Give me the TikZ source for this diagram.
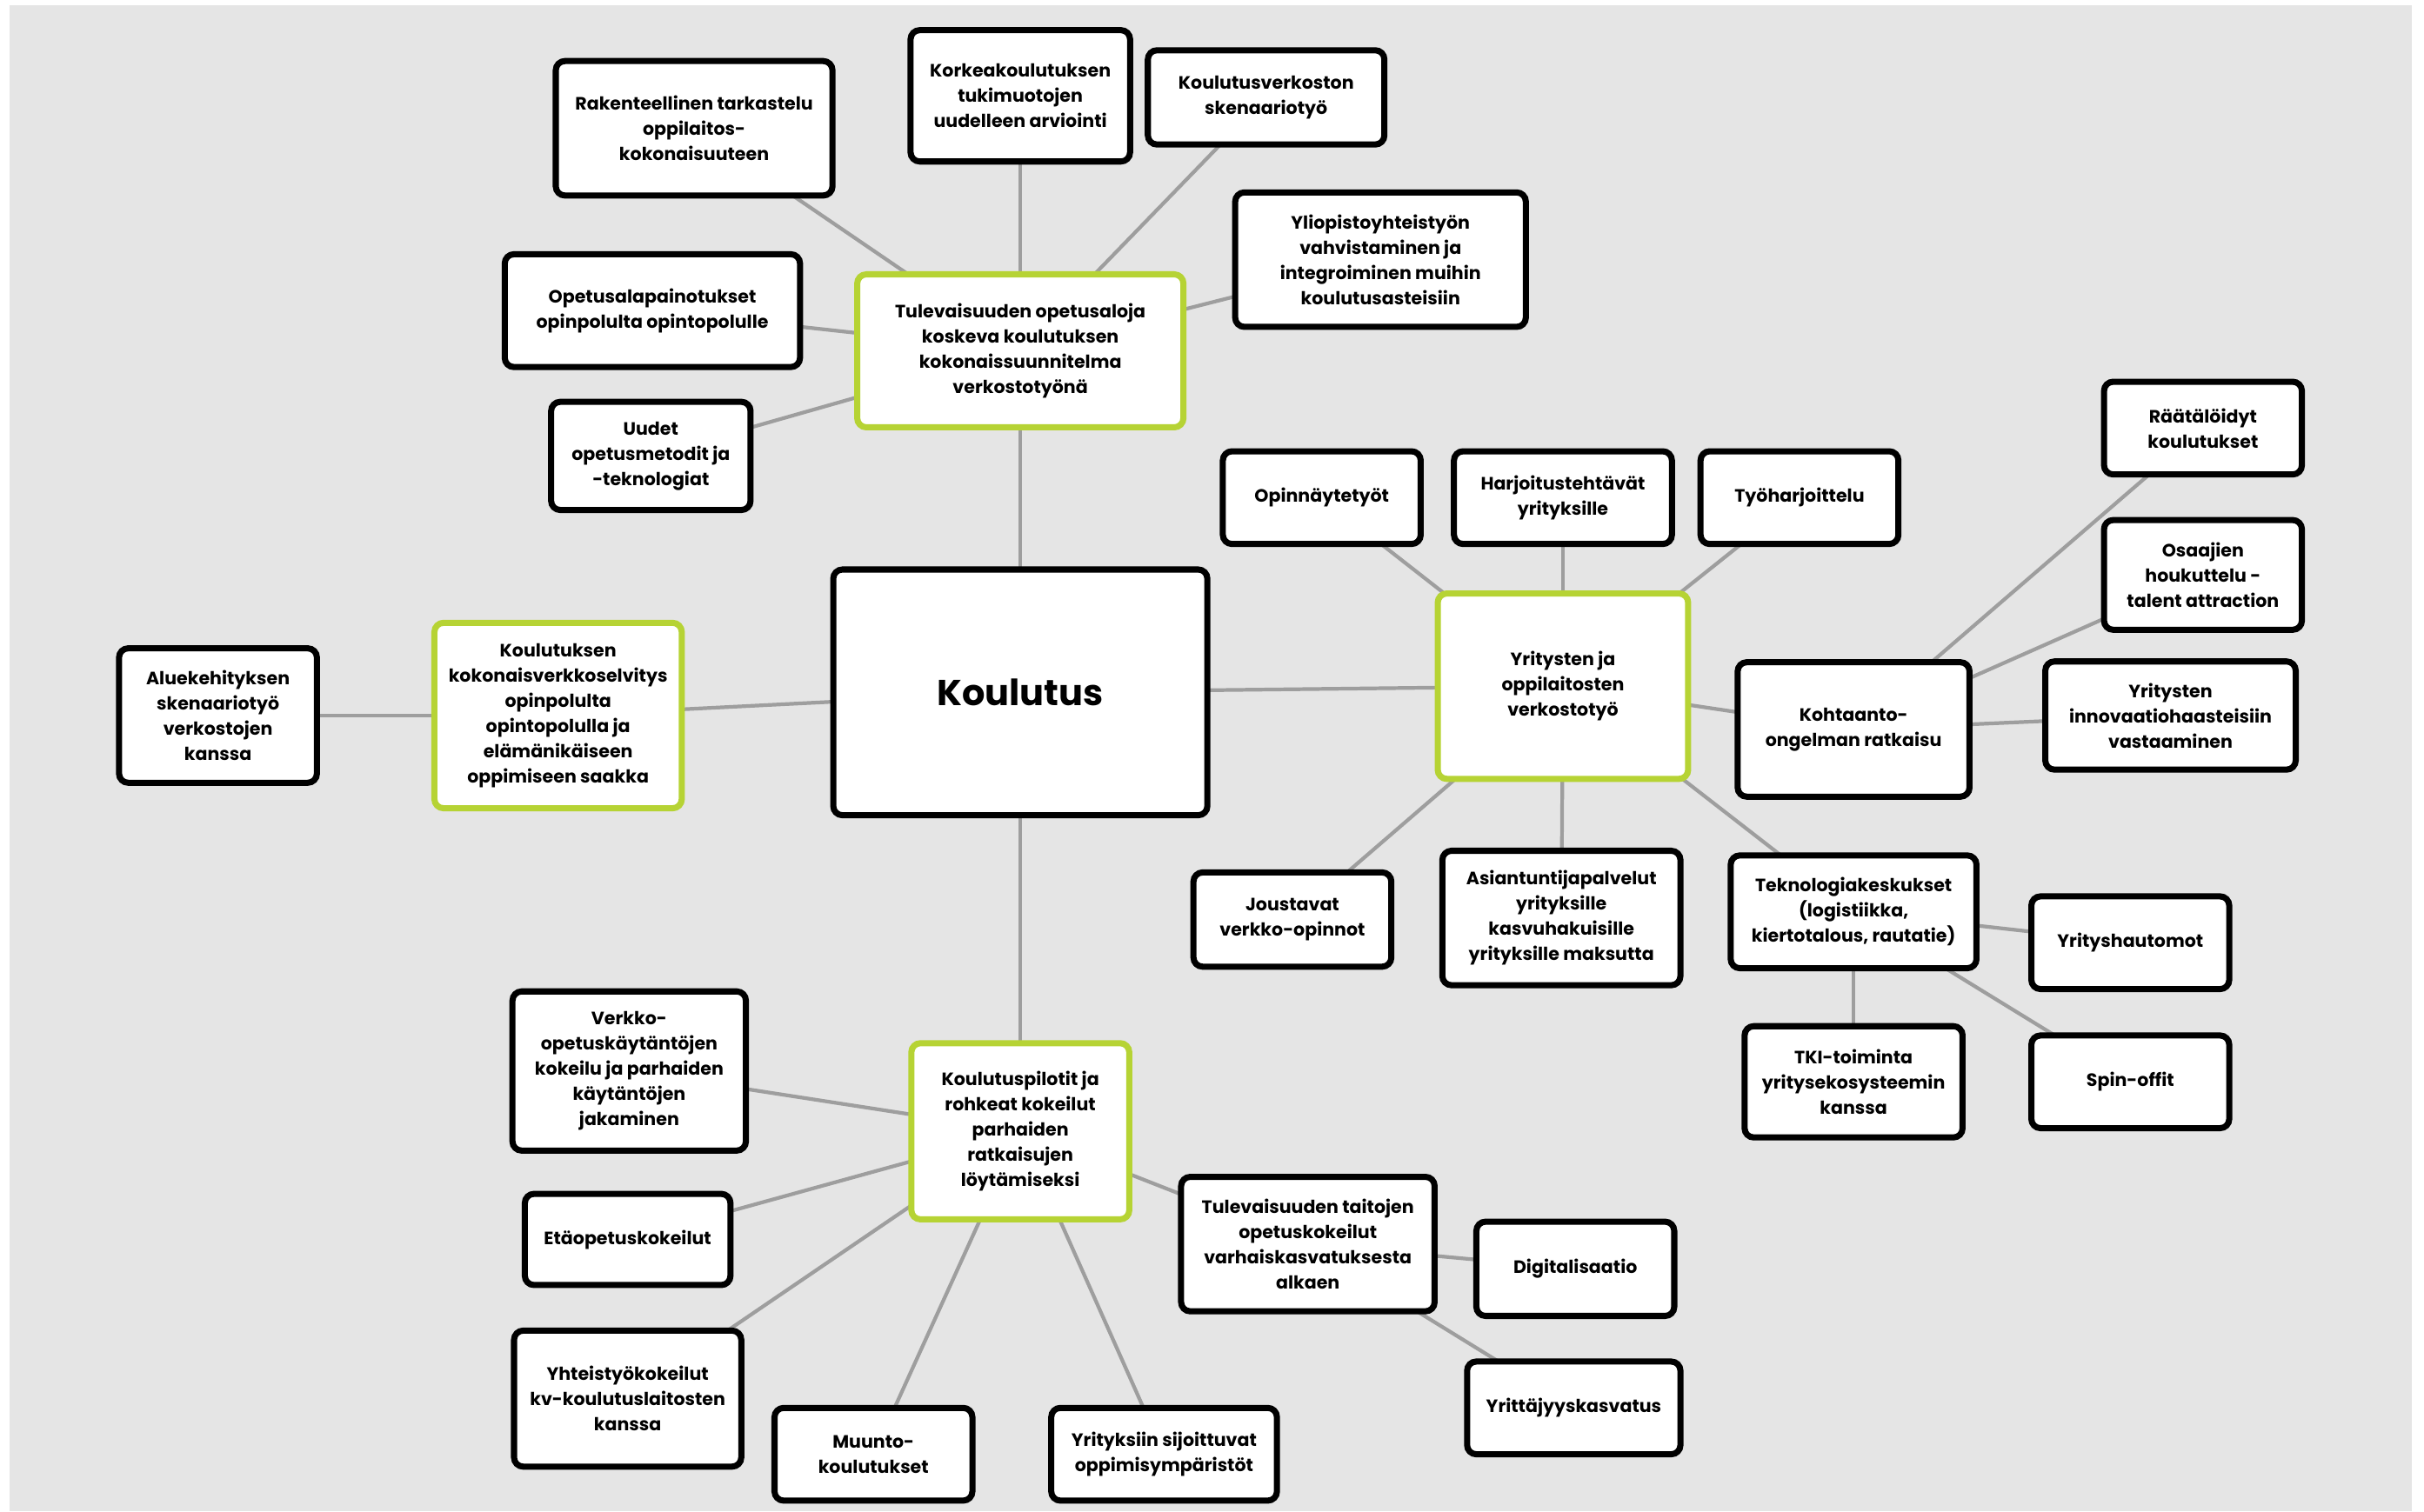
\documentclass[tikz,border=0pt]{standalone}
\usepackage{fontspec}
\setmainfont{Poppins}
\usetikzlibrary{backgrounds}

\definecolor{keygreen}{RGB}{182,211,52}
\definecolor{linkgray}{RGB}{158,158,158}
\definecolor{paper}{RGB}{229,229,229}

\tikzset{
	box/.style={draw=black, line width=2pt, fill=white, rounded corners=3pt, align=center, inner sep=0pt,
		font=\bfseries\fontsize{5.85}{8.25}\selectfont},
	goal/.style={box, draw=keygreen},
	link/.style={draw=linkgray, line width=1.2pt},
	sz/.style 2 args={minimum width={#1*0.017774cm}, minimum height={#2*0.017774cm}}
}

\begin{document}
\begin{tikzpicture}[x=0.017774cm, y=-0.017774cm]
	\useasboundingbox (0,0) rectangle (1568,978);

	%centre
	\node[box, sz={242}{159}, font=\bfseries\fontsize{11.8}{14}\selectfont] (koulutus) at (660,448) {Koulutus};

	%green main themes
	\node[goal, sz={211}{99}] (opetusala) at (660,227) {Tulevaisuuden opetusaloja\\koskeva koulutuksen\\kokonaissuunnitelma\\verkostotyönä};
	\node[goal, sz={160}{120}] (selvitys) at (361,463) {Koulutuksen\\kokonaisverkkoselvitys\\opinpolulta\\opintopolulla ja\\elämänikäiseen\\oppimiseen saakka};
	\node[goal, sz={162}{120}] (yritykset) at (1011,444) {Yritysten ja\\oppilaitosten\\verkostotyö};
	\node[goal, sz={141}{114}] (pilotit) at (660,732) {Koulutuspilotit ja\\rohkeat kokeilut\\parhaiden\\ratkaisujen\\löytämiseksi};

	%top cluster
	\node[box, sz={179}{87}] (rakenne) at (449,83) {Rakenteellinen tarkastelu\\oppilaitos-\\kokonaisuuteen};
	\node[box, sz={142}{85}] (korkea) at (660,62) {Korkeakoulutuksen\\tukimuotojen\\uudelleen arviointi};
	\node[box, sz={153}{61}] (verkosto) at (819,63) {Koulutusverkoston\\skenaariotyö};
	\node[box, sz={188}{87}] (yliopisto) at (893,168) {Yliopistoyhteistyön\\vahvistaminen ja\\integroiminen muihin\\koulutusasteisiin};
	\node[box, sz={191}{73}] (painotus) at (422,201) {Opetusalapainotukset\\opinpolulta opintopolulle};
	\node[box, sz={129}{70}] (metodit) at (421,295) {Uudet\\opetusmetodit ja\\-teknologiat};

	%left
	\node[box, sz={128}{87}] (alue) at (141,463) {Aluekehityksen\\skenaariotyö\\verkostojen\\kanssa};

	%right cluster
	\node[box, sz={128}{60}] (opinnayte) at (855,322) {Opinnäytetyöt};
	\node[box, sz={141}{60}] (harjoitus) at (1011,322) {Harjoitustehtävät\\yrityksille};
	\node[box, sz={128}{60}] (tyoharj) at (1164,322) {Työharjoittelu};
	\node[box, sz={150}{87}] (kohtaanto) at (1199,472) {Kohtaanto-\\ongelman ratkaisu};
	\node[box, sz={128}{60}] (raataloidyt) at (1425,277) {Räätälöidyt\\koulutukset};
	\node[box, sz={128}{71}] (osaajat) at (1425,372) {Osaajien\\houkuttelu -\\talent attraction};
	\node[box, sz={162}{70}] (innovaatio) at (1404,463) {Yritysten\\innovaatiohaasteisiin\\vastaaminen};
	\node[box, sz={128}{61}] (joustavat) at (836,595) {Joustavat\\verkko-opinnot};
	\node[box, sz={154}{87}] (asiantuntija) at (1010,594) {Asiantuntijapalvelut\\yrityksille\\kasvuhakuisille\\yrityksille maksutta};
	\node[box, sz={159}{73}] (teknologia) at (1199,590) {Teknologiakeskukset\\(logistiikka,\\kiertotalous, rautatie)};
	\node[box, sz={128}{60}] (hautomot) at (1378,610) {Yrityshautomot};
	\node[box, sz={141}{72}] (tki) at (1199,700) {TKI-toiminta\\yritysekosysteemin\\kanssa};
	\node[box, sz={128}{60}] (spinoff) at (1378,700) {Spin-offit};

	%bottom cluster
	\node[box, sz={151}{103}] (verkkoopetus) at (407,693) {Verkko-\\opetuskäytäntöjen\\kokeilu ja parhaiden\\käytäntöjen\\jakaminen};
	\node[box, sz={133}{59}] (etaopetus) at (406,802) {Etäopetuskokeilut};
	\node[box, sz={147}{88}] (yhteistyo) at (406,905) {Yhteistyökokeilut\\kv-koulutuslaitosten\\kanssa};
	\node[box, sz={128}{60}] (muunto) at (565,941) {Muunto-\\koulutukset};
	\node[box, sz={146}{60}] (yrityksiin) at (753,941) {Yrityksiin sijoittuvat\\oppimisympäristöt};
	\node[box, sz={164}{87}] (taidot) at (846,805) {Tulevaisuuden taitojen\\opetuskokeilut\\varhaiskasvatuksesta\\alkaen};
	\node[box, sz={128}{61}] (digi) at (1019,821) {Digitalisaatio};
	\node[box, sz={138}{60}] (yrittajyys) at (1018,911) {Yrittäjyyskasvatus};

	\begin{pgfonlayer}{background}
		%paper
		\fill[white] (0,0) rectangle (1568,978);
		\fill[paper] (6,3.5) rectangle (1560,978);
		%links
		\foreach \a/\b in {koulutus/opetusala, koulutus/selvitys, koulutus/yritykset, koulutus/pilotit,
			opetusala/rakenne, opetusala/korkea, opetusala/verkosto, opetusala/yliopisto,
			opetusala/painotus, opetusala/metodit, selvitys/alue,
			yritykset/opinnayte, yritykset/harjoitus, yritykset/tyoharj, yritykset/kohtaanto,
			yritykset/joustavat, yritykset/asiantuntija, yritykset/teknologia,
			kohtaanto/raataloidyt, kohtaanto/osaajat, kohtaanto/innovaatio,
			teknologia/hautomot, teknologia/tki, teknologia/spinoff,
			pilotit/verkkoopetus, pilotit/etaopetus, pilotit/yhteistyo, pilotit/muunto,
			pilotit/yrityksiin, pilotit/taidot, taidot/digi, taidot/yrittajyys}
			\draw[link] (\a.center) -- (\b.center);
	\end{pgfonlayer}
\end{tikzpicture}
\end{document}
